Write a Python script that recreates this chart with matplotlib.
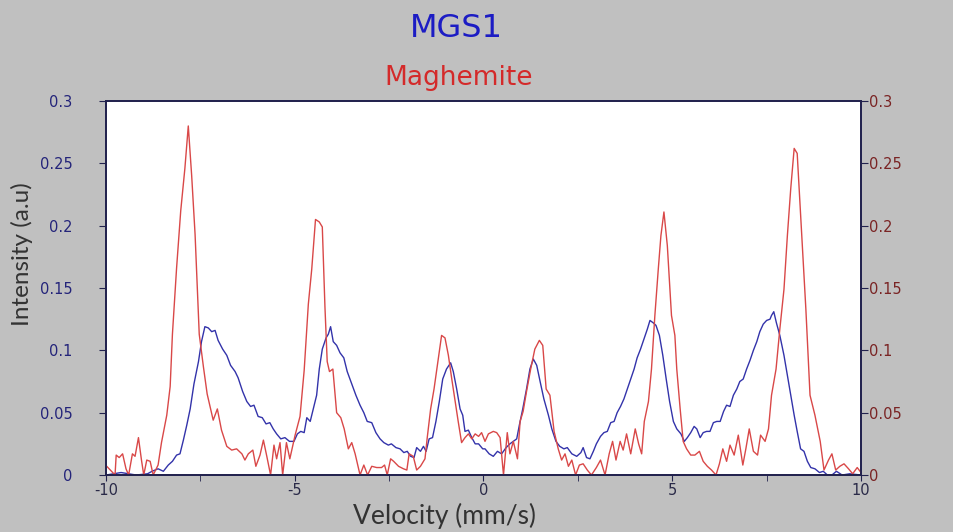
import numpy as np
import matplotlib
matplotlib.use("Agg")
import matplotlib.pyplot as plt
from matplotlib.ticker import MultipleLocator, FuncFormatter

plt.rcParams["axes.unicode_minus"] = False

# MGS1 spectrum (blue, left axis)
mgs1_v = [-10.0, -9.6, -9.2, -8.9, -8.78, -8.62, -8.48, -8.35, -8.24, -8.13, -8.04,
          -7.95, -7.86, -7.77, -7.67, -7.55, -7.47, -7.38, -7.29, -7.20, -7.11, -7.03,
          -6.91, -6.80, -6.70, -6.58, -6.50, -6.38, -6.27, -6.17, -6.08, -5.97, -5.86,
          -5.76, -5.66, -5.57, -5.48, -5.37, -5.26, -5.14, -5.02, -4.93, -4.84, -4.75,
          -4.68, -4.59, -4.51, -4.42, -4.35, -4.27, -4.17, -4.11, -4.05, -3.98, -3.89,
          -3.80, -3.70, -3.61, -3.49, -3.38, -3.27, -3.17, -3.08, -2.96, -2.85, -2.74,
          -2.64, -2.52, -2.44, -2.32, -2.21, -2.11, -2.02, -1.93, -1.84, -1.77, -1.67,
          -1.59, -1.52, -1.44, -1.35, -1.26, -1.17, -1.08, -0.98, -0.87, -0.80, -0.71,
          -0.62, -0.55, -0.49, -0.40, -0.31, -0.22, -0.13, -0.02, 0.04, 0.15, 0.26,
          0.37, 0.48, 0.60, 0.70, 0.79, 0.88, 0.95, 1.04, 1.14, 1.23, 1.32, 1.41,
          1.50, 1.60, 1.72, 1.81, 1.92, 2.02, 2.13, 2.22, 2.34, 2.47, 2.58, 2.64,
          2.73, 2.82, 2.91, 2.99, 3.10, 3.19, 3.28, 3.37, 3.46, 3.54, 3.63, 3.72,
          3.81, 3.90, 3.99, 4.07, 4.16, 4.25, 4.34, 4.41, 4.50, 4.57, 4.66, 4.75,
          4.84, 4.93, 5.03, 5.12, 5.23, 5.32, 5.40, 5.49, 5.58, 5.65, 5.74, 5.82,
          5.91, 6.00, 6.09, 6.18, 6.27, 6.36, 6.44, 6.53, 6.62, 6.71, 6.79, 6.88,
          6.97, 7.06, 7.15, 7.24, 7.32, 7.41, 7.50, 7.59, 7.63, 7.69, 7.76, 7.85,
          7.96, 8.05, 8.14, 8.23, 8.31, 8.40, 8.49, 8.58, 8.67, 8.78, 8.90, 9.00,
          9.11, 9.23, 9.35, 9.5, 9.7, 10.0]
mgs1_i = [0.0, 0.002, 0.0, 0.001, 0.003, 0.005, 0.003, 0.008, 0.011, 0.016, 0.017,
          0.028, 0.040, 0.053, 0.073, 0.091, 0.107, 0.119, 0.118, 0.115, 0.116, 0.108,
          0.101, 0.096, 0.088, 0.083, 0.078, 0.067, 0.059, 0.055, 0.056, 0.047, 0.046,
          0.041, 0.042, 0.037, 0.033, 0.029, 0.030, 0.027, 0.027, 0.033, 0.035, 0.034,
          0.046, 0.043, 0.053, 0.064, 0.085, 0.101, 0.110, 0.113, 0.119, 0.107, 0.104,
          0.098, 0.094, 0.083, 0.073, 0.064, 0.056, 0.050, 0.043, 0.042, 0.034, 0.029,
          0.026, 0.024, 0.025, 0.022, 0.021, 0.018, 0.019, 0.015, 0.014, 0.022, 0.019,
          0.023, 0.019, 0.029, 0.030, 0.043, 0.059, 0.077, 0.085, 0.090, 0.083, 0.069,
          0.053, 0.048, 0.035, 0.036, 0.030, 0.025, 0.025, 0.021, 0.021, 0.017, 0.015,
          0.019, 0.017, 0.022, 0.025, 0.027, 0.029, 0.040, 0.053, 0.069, 0.085, 0.093,
          0.088, 0.075, 0.061, 0.048, 0.037, 0.027, 0.023, 0.021, 0.022, 0.017, 0.015,
          0.018, 0.022, 0.014, 0.013, 0.019, 0.025, 0.031, 0.034, 0.035, 0.042, 0.043,
          0.050, 0.055, 0.061, 0.069, 0.077, 0.085, 0.094, 0.101, 0.109, 0.117, 0.124,
          0.122, 0.120, 0.112, 0.096, 0.077, 0.059, 0.043, 0.037, 0.033, 0.027, 0.030,
          0.034, 0.039, 0.037, 0.030, 0.034, 0.035, 0.035, 0.042, 0.043, 0.043, 0.051,
          0.056, 0.055, 0.064, 0.069, 0.075, 0.077, 0.085, 0.092, 0.100, 0.107, 0.115,
          0.121, 0.124, 0.125, 0.128, 0.131, 0.122, 0.112, 0.096, 0.080, 0.064, 0.048,
          0.035, 0.021, 0.019, 0.011, 0.006, 0.005, 0.002, 0.003, 0.0, 0.0, 0.003,
          0.0, 0.001, 0.0]

# Maghemite reference (red, right axis)
magh_v = [-9.98, -9.76, -9.73, -9.65, -9.56, -9.47, -9.40, -9.30, -9.23, -9.14, -9.06,
          -9.00, -8.92, -8.83, -8.75, -8.62, -8.53, -8.39, -8.30, -8.24, -8.13, -8.02,
          -7.91, -7.82, -7.73, -7.64, -7.53, -7.42, -7.32, -7.16, -7.05, -6.94, -6.80,
          -6.67, -6.54, -6.40, -6.32, -6.23, -6.11, -6.03, -5.92, -5.83, -5.74, -5.64,
          -5.55, -5.48, -5.39, -5.32, -5.22, -5.13, -4.99, -4.86, -4.75, -4.64, -4.55,
          -4.45, -4.35, -4.27, -4.20, -4.14, -4.08, -3.99, -3.89, -3.78, -3.69, -3.58,
          -3.49, -3.40, -3.27, -3.17, -3.07, -2.96, -2.83, -2.70, -2.62, -2.55, -2.46,
          -2.38, -2.25, -2.12, -2.03, -1.97, -1.86, -1.77, -1.67, -1.55, -1.49, -1.40,
          -1.31, -1.20, -1.11, -1.02, -0.93, -0.84, -0.75, -0.67, -0.58, -0.49, -0.40,
          -0.31, -0.22, -0.13, -0.05, 0.04, 0.13, 0.26, 0.35, 0.44, 0.53, 0.63, 0.70,
          0.79, 0.90, 0.97, 1.05, 1.14, 1.25, 1.36, 1.48, 1.57, 1.66, 1.76, 1.87,
          1.98, 2.07, 2.16, 2.25, 2.34, 2.44, 2.54, 2.64, 2.75, 2.86, 2.99, 3.10,
          3.22, 3.33, 3.42, 3.51, 3.62, 3.70, 3.79, 3.90, 4.02, 4.11, 4.19, 4.26,
          4.37, 4.45, 4.54, 4.63, 4.70, 4.78, 4.87, 4.98, 5.07, 5.12, 5.21, 5.29,
          5.38, 5.49, 5.60, 5.72, 5.82, 5.93, 6.04, 6.16, 6.25, 6.34, 6.44, 6.53,
          6.64, 6.75, 6.87, 6.95, 7.04, 7.15, 7.26, 7.34, 7.46, 7.55, 7.63, 7.75,
          7.85, 7.96, 8.05, 8.14, 8.23, 8.31, 8.43, 8.54, 8.65, 8.78, 8.92, 9.02,
          9.14, 9.23, 9.33, 9.44, 9.55, 9.67, 9.78, 9.90, 10.0]
magh_i = [0.007, 0.0, 0.016, 0.014, 0.017, 0.005, 0.0, 0.017, 0.015, 0.030, 0.012,
          0.0, 0.012, 0.011, 0.0, 0.008, 0.026, 0.048, 0.071, 0.113, 0.166, 0.212,
          0.246, 0.280, 0.240, 0.193, 0.113, 0.087, 0.065, 0.044, 0.053, 0.036, 0.023,
          0.020, 0.021, 0.017, 0.012, 0.017, 0.020, 0.007, 0.016, 0.028, 0.015, 0.0,
          0.024, 0.013, 0.026, 0.0, 0.026, 0.013, 0.032, 0.047, 0.084, 0.137, 0.165,
          0.205, 0.203, 0.199, 0.135, 0.091, 0.083, 0.085, 0.050, 0.046, 0.037, 0.021,
          0.026, 0.017, 0.0, 0.008, 0.0, 0.007, 0.006, 0.006, 0.008, 0.0, 0.013,
          0.011, 0.007, 0.005, 0.004, 0.017, 0.015, 0.004, 0.007, 0.013, 0.030, 0.053,
          0.069, 0.093, 0.112, 0.110, 0.096, 0.077, 0.059, 0.043, 0.026, 0.030, 0.033,
          0.029, 0.033, 0.031, 0.034, 0.027, 0.033, 0.035, 0.034, 0.030, 0.0, 0.034, 0.017,
          0.027, 0.013, 0.043, 0.051, 0.067, 0.085, 0.101, 0.108, 0.104, 0.069, 0.064, 0.035,
          0.021, 0.012, 0.017, 0.007, 0.012, 0.0, 0.008, 0.009, 0.004, 0.0, 0.006, 0.012,
          0.0, 0.017, 0.027, 0.012, 0.027, 0.020, 0.033, 0.017, 0.037, 0.025, 0.017, 0.043,
          0.059, 0.085, 0.128, 0.165, 0.192, 0.211, 0.184, 0.128, 0.112, 0.085, 0.053, 0.027,
          0.021, 0.016, 0.016, 0.019, 0.011, 0.007, 0.004, 0.0, 0.009, 0.021, 0.011, 0.024,
          0.016, 0.032, 0.008, 0.021, 0.037, 0.019, 0.016, 0.032, 0.027, 0.037, 0.064, 0.085,
          0.117, 0.149, 0.192, 0.230, 0.262, 0.258, 0.192, 0.133, 0.064, 0.048, 0.027, 0.004,
          0.012, 0.017, 0.004, 0.007, 0.009, 0.005, 0.001, 0.006, 0.002]

bg = "#c0c0c0"
navy = "#22224e"

fig = plt.figure(figsize=(9.54, 5.32), dpi=100, facecolor=bg)
ax = fig.add_axes([0.1111, 0.1071, 0.7914, 0.7030])
ax.set_facecolor("white")
ax2 = ax.twinx()

ax.plot(mgs1_v, mgs1_i, color="#3333aa", lw=1.0)
ax2.plot(magh_v, magh_i, color="#d94848", lw=1.0)

for a in (ax, ax2):
    a.set_xlim(-10, 10)
    a.set_ylim(0, 0.3)
    for s in a.spines.values():
        s.set_color(navy)
        s.set_linewidth(1.3)

ax.xaxis.set_major_locator(MultipleLocator(5))
ax.xaxis.set_minor_locator(MultipleLocator(2.5))
ax.yaxis.set_major_locator(MultipleLocator(0.05))
ax2.yaxis.set_major_locator(MultipleLocator(0.05))

fmt = FuncFormatter(lambda v, p: "0" if abs(v) < 1e-9 else f"{v:g}")
ax.yaxis.set_major_formatter(fmt)
ax2.yaxis.set_major_formatter(fmt)

ax.tick_params(axis="x", which="both", direction="out", length=4, color=navy,
               labelcolor="#2a2a48", pad=2)
ax.tick_params(axis="y", direction="out", length=5, color=navy,
               labelcolor="#24247a", pad=19)
ax2.tick_params(axis="y", direction="out", length=5, color=navy,
                labelcolor="#7a2424", pad=1)
for lbl in ax.get_xticklabels() + ax.get_yticklabels() + ax2.get_yticklabels():
    lbl.set_fontfamily("DejaVu Sans")
    lbl.set_fontsize(10.5)

ax.set_xlabel("Velocity (mm/s)", family="Lato", fontsize=19, color="#333333")
ax.xaxis.set_label_coords(0.449, -0.075)
ax.set_ylabel("Intensity (a.u)", family="Lato", fontsize=17.5, color="#333333")
ax.yaxis.set_label_coords(-0.097, 0.591)

fig.text(0.478, 0.930, "MGS1", ha="center", va="baseline", color="#1c1cc4",
         family="DejaVu Sans", fontsize=23)
fig.text(0.481, 0.840, "Maghemite", ha="center", va="baseline", color="#d42a2a",
         family="DejaVu Sans", fontsize=19)

fig.savefig("out.png", dpi=100, facecolor=bg)
